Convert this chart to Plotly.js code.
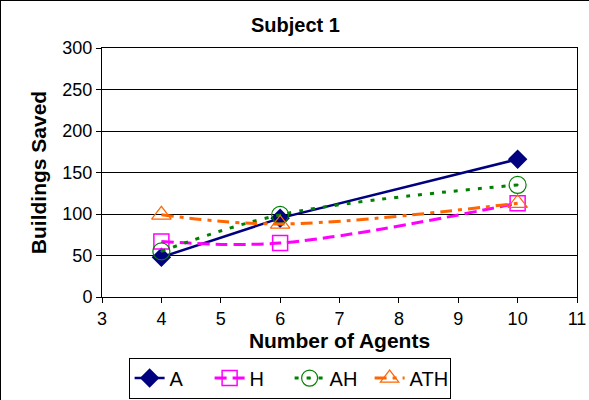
<!DOCTYPE html>
<html><head><meta charset="utf-8">
<script src="https://cdn.plot.ly/plotly-3.0.1.min.js"></script>
<style>html,body{margin:0;padding:0;background:#fff}#c{width:589px;height:400px;box-sizing:border-box;border:1px solid #000}</style>
</head><body><div id="c"></div>
<script>
const agents = [4, 6, 10];
const seriesA = [48, 95, 166];
const seriesH = [67, 65, 113];
const seriesAH = [55, 99, 135];
const seriesATH = [99, 88, 113];
const names = ['A', 'H', 'AH', 'ATH'];

const traces = [
  {x: agents, y: seriesA, name: names[0], mode: 'lines+markers',
   line: {color: '#000080', width: 2.5},
   marker: {symbol: 'diamond', size: 15, color: '#000080'}},
  {x: agents, y: seriesH, name: names[1], mode: 'lines+markers',
   line: {color: '#FF00FF', width: 3, dash: '12px,6px', shape: 'spline'},
   marker: {symbol: 'square-open', size: 15, color: '#FF00FF', line: {width: 1.5}}},
  {x: agents, y: seriesAH, name: names[2], mode: 'lines+markers',
   line: {color: '#008000', width: 3, dash: '4px,8px', shape: 'spline'},
   marker: {symbol: 'circle-open-dot', size: 17, color: '#008000', line: {width: 1.2}}},
  {x: agents, y: seriesATH, name: names[3], mode: 'lines+markers',
   line: {color: '#FF6600', width: 3, dash: '12px,6px,4px,6px', shape: 'spline'},
   marker: {symbol: 'triangle-up-open', size: 17, color: '#FF6600', line: {width: 1.2}}}
];

const layout = {
  width: 589, height: 400,
  margin: {l: 101, r: 13, t: 47, b: 104, autoexpand: false},
  paper_bgcolor: '#fff', plot_bgcolor: '#fff',
  font: {family: 'Arial, Liberation Sans, sans-serif', color: '#000', size: 18},
  title: {text: '<b>Subject 1</b>', font: {size: 20}, x: 0.5, xanchor: 'center',
    yref: 'container', y: 0.94, yanchor: 'middle'},
  xaxis: {range: [3, 11], dtick: 1, tick0: 3, showgrid: false, zeroline: false,
    showline: true, linecolor: '#000', linewidth: 1, mirror: true,
    ticks: 'outside', ticklen: 5, tickcolor: '#000',
    title: {text: '<b>Number of Agents</b>', font: {size: 21}, standoff: 4}},
  yaxis: {range: [0, 300], dtick: 50, showgrid: true, gridcolor: '#000', gridwidth: 1, zeroline: false,
    showline: true, linecolor: '#000', linewidth: 1, mirror: true,
    ticks: 'outside', ticklen: 5, tickcolor: '#000',
    title: {text: '<b>Buildings Saved</b>', font: {size: 21}, standoff: 10}},
  showlegend: true,
  legend: {orientation: 'h', x: 0.49, xref: 'container', xanchor: 'center',
    yref: 'container', y: 0.006, yanchor: 'bottom', entrywidth: 35,
    bordercolor: '#000', borderwidth: 1, font: {size: 20}, tracegroupgap: 0}
};
Plotly.newPlot('c', traces, layout, {displayModeBar: false, staticPlot: true});
</script></body></html>
